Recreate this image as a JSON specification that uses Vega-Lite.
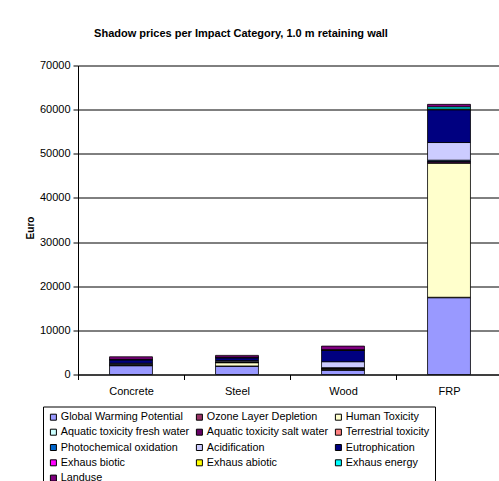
{
  "$schema": "https://vega.github.io/schema/vega-lite/v6.json",
  "autosize": {"type": "none"},
  "width": 424,
  "height": 309,
  "padding": {"left": 78, "top": 65.5, "right": -3, "bottom": 106.5},
  "background": "white",
  "config": {"view": {"stroke": null}, "font": "Liberation Sans"},
  "title": {"text": "Shadow prices per Impact Category, 1.0 m retaining wall", "font": "Liberation Sans", "fontSize": 11, "fontWeight": "bold", "color": "black", "anchor": "middle", "frame": "group", "dx": -49, "offset": 21},
  "data": {"values": [
    {"material": "Concrete", "k": 1, "category": "Global Warming Potential", "euro": 2000},
    {"material": "Concrete", "k": 2, "category": "Ozone Layer Depletion", "euro": 30},
    {"material": "Concrete", "k": 3, "category": "Human Toxicity", "euro": 150},
    {"material": "Concrete", "k": 4, "category": "Aquatic toxicity fresh water", "euro": 20},
    {"material": "Concrete", "k": 5, "category": "Aquatic toxicity salt water", "euro": 80},
    {"material": "Concrete", "k": 6, "category": "Terrestrial toxicity", "euro": 10},
    {"material": "Concrete", "k": 7, "category": "Photochemical oxidation", "euro": 60},
    {"material": "Concrete", "k": 8, "category": "Acidification", "euro": 200},
    {"material": "Concrete", "k": 9, "category": "Eutrophication", "euro": 800},
    {"material": "Concrete", "k": 10, "category": "Exhaus biotic", "euro": 0},
    {"material": "Concrete", "k": 11, "category": "Exhaus abiotic", "euro": 30},
    {"material": "Concrete", "k": 12, "category": "Exhaus energy", "euro": 60},
    {"material": "Concrete", "k": 13, "category": "Landuse", "euro": 570},
    {"material": "Steel", "k": 1, "category": "Global Warming Potential", "euro": 1900},
    {"material": "Steel", "k": 2, "category": "Ozone Layer Depletion", "euro": 30},
    {"material": "Steel", "k": 3, "category": "Human Toxicity", "euro": 750},
    {"material": "Steel", "k": 4, "category": "Aquatic toxicity fresh water", "euro": 30},
    {"material": "Steel", "k": 5, "category": "Aquatic toxicity salt water", "euro": 100},
    {"material": "Steel", "k": 6, "category": "Terrestrial toxicity", "euro": 20},
    {"material": "Steel", "k": 7, "category": "Photochemical oxidation", "euro": 80},
    {"material": "Steel", "k": 8, "category": "Acidification", "euro": 250},
    {"material": "Steel", "k": 9, "category": "Eutrophication", "euro": 650},
    {"material": "Steel", "k": 10, "category": "Exhaus biotic", "euro": 0},
    {"material": "Steel", "k": 11, "category": "Exhaus abiotic", "euro": 40},
    {"material": "Steel", "k": 12, "category": "Exhaus energy", "euro": 80},
    {"material": "Steel", "k": 13, "category": "Landuse", "euro": 400},
    {"material": "Wood", "k": 1, "category": "Global Warming Potential", "euro": 1000},
    {"material": "Wood", "k": 2, "category": "Ozone Layer Depletion", "euro": 40},
    {"material": "Wood", "k": 3, "category": "Human Toxicity", "euro": 200},
    {"material": "Wood", "k": 4, "category": "Aquatic toxicity fresh water", "euro": 30},
    {"material": "Wood", "k": 5, "category": "Aquatic toxicity salt water", "euro": 150},
    {"material": "Wood", "k": 6, "category": "Terrestrial toxicity", "euro": 30},
    {"material": "Wood", "k": 7, "category": "Photochemical oxidation", "euro": 100},
    {"material": "Wood", "k": 8, "category": "Acidification", "euro": 1350},
    {"material": "Wood", "k": 9, "category": "Eutrophication", "euro": 2600},
    {"material": "Wood", "k": 10, "category": "Exhaus biotic", "euro": 0},
    {"material": "Wood", "k": 11, "category": "Exhaus abiotic", "euro": 30},
    {"material": "Wood", "k": 12, "category": "Exhaus energy", "euro": 100},
    {"material": "Wood", "k": 13, "category": "Landuse", "euro": 800},
    {"material": "FRP", "k": 1, "category": "Global Warming Potential", "euro": 17400},
    {"material": "FRP", "k": 2, "category": "Ozone Layer Depletion", "euro": 100},
    {"material": "FRP", "k": 3, "category": "Human Toxicity", "euro": 30400},
    {"material": "FRP", "k": 4, "category": "Aquatic toxicity fresh water", "euro": 50},
    {"material": "FRP", "k": 5, "category": "Aquatic toxicity salt water", "euro": 300},
    {"material": "FRP", "k": 6, "category": "Terrestrial toxicity", "euro": 50},
    {"material": "FRP", "k": 7, "category": "Photochemical oxidation", "euro": 250},
    {"material": "FRP", "k": 8, "category": "Acidification", "euro": 4000},
    {"material": "FRP", "k": 9, "category": "Eutrophication", "euro": 7450},
    {"material": "FRP", "k": 10, "category": "Exhaus biotic", "euro": 0},
    {"material": "FRP", "k": 11, "category": "Exhaus abiotic", "euro": 150},
    {"material": "FRP", "k": 12, "category": "Exhaus energy", "euro": 500},
    {"material": "FRP", "k": 13, "category": "Landuse", "euro": 550}
  ]},
  "mark": {"type": "bar", "stroke": "black", "strokeWidth": 0.8, "width": {"band": 0.405}},
  "encoding": {
    "x": {
      "field": "material", "type": "nominal",
      "sort": ["Concrete", "Steel", "Wood", "FRP"],
      "scale": {"paddingInner": 0, "paddingOuter": 0},
      "axis": {"title": null, "labelAngle": 0, "labelFont": "Liberation Sans", "labelFontSize": 11, "labelColor": "black", "tickBand": "extent", "tickSize": 5, "tickColor": "black", "domainColor": "black", "labelPadding": 6}
    },
    "y": {
      "field": "euro", "type": "quantitative", "stack": "zero",
      "scale": {"domain": [0, 70000], "nice": false},
      "axis": {"title": "Euro", "titleFont": "Liberation Sans", "titleFontSize": 10, "titleFontWeight": "bold", "titleColor": "black", "titleX": -48, "titleY": 162, "titleBaseline": "middle", "titleAlign": "center", "values": [0, 10000, 20000, 30000, 40000, 50000, 60000, 70000], "format": "d", "labelFont": "Liberation Sans", "labelFontSize": 11, "labelColor": "black", "tickSize": 5, "tickColor": "black", "domainColor": "black", "labelPadding": 3, "grid": true, "gridColor": "black", "gridOpacity": 1, "gridWidth": 1}
    },
    "color": {
      "field": "category", "type": "nominal",
      "scale": {
        "domain": ["Global Warming Potential", "Ozone Layer Depletion", "Human Toxicity", "Aquatic toxicity fresh water", "Aquatic toxicity salt water", "Terrestrial toxicity", "Photochemical oxidation", "Acidification", "Eutrophication", "Exhaus biotic", "Exhaus abiotic", "Exhaus energy", "Landuse"],
        "range": ["#9999FF", "#993366", "#FFFFCC", "#CCFFFF", "#660066", "#FF8080", "#0066CC", "#CCCCFF", "#000080", "#FF00FF", "#FFFF00", "#00FFFF", "#800080"]
      },
      "legend": {"title": null, "orient": "none", "legendX": -35, "legendY": 341, "columns": 3, "direction": "horizontal", "symbolType": "square", "symbolSize": 36, "symbolStrokeColor": "black", "symbolStrokeWidth": 1, "symbolOpacity": 1, "labelFont": "Liberation Sans", "labelFontSize": 10.8, "labelColor": "black", "labelLimit": 300, "strokeColor": "black", "padding": 5, "rowPadding": 3.3, "columnPadding": 4, "labelOffset": 2}
    },
    "order": {"field": "k", "type": "quantitative"}
  }
}
